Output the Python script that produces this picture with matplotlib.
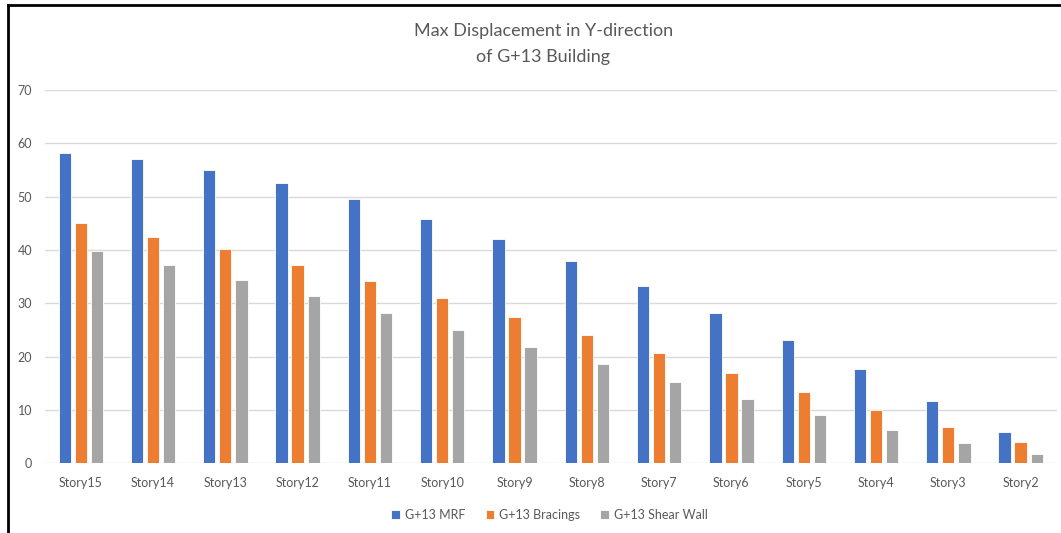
import matplotlib
matplotlib.use('Agg')
import matplotlib.pyplot as plt
from matplotlib.lines import Line2D
import numpy as np

stories = ['Story15', 'Story14', 'Story13', 'Story12', 'Story11', 'Story10', 'Story9',
           'Story8', 'Story7', 'Story6', 'Story5', 'Story4', 'Story3', 'Story2']
mrf = [58.2, 57.0, 55.0, 52.5, 49.5, 45.9, 42.0, 37.9, 33.3, 28.2, 23.1, 17.6, 11.7, 5.9]
bracings = [45.0, 42.5, 40.1, 37.2, 34.2, 30.9, 27.5, 24.1, 20.6, 17.0, 13.3, 9.9, 6.7, 3.9]
shear_wall = [39.9, 37.2, 34.4, 31.3, 28.2, 25.0, 21.8, 18.7, 15.3, 12.1, 9.1, 6.2, 3.7, 1.8]
series_names = ['G+13 MRF', 'G+13 Bracings', 'G+13 Shear Wall']
colors = ['#4472C4', '#ED7D31', '#A5A5A5']

plt.rcParams['font.family'] = ['Lato', 'DejaVu Sans']
text_color = '#595959'

fig = plt.figure(figsize=(10.61, 5.33), dpi=100)
ax = fig.add_axes([0.042, 0.131, 0.954, 0.700])

x = np.arange(len(stories))
w = 0.17
step = 0.222
for i, (vals, name, c) in enumerate(zip([mrf, bracings, shear_wall], series_names, colors)):
    ax.bar(x + (i - 1) * step, vals, width=w, color=c, edgecolor='white', linewidth=0.6,
           label=name, zorder=3)

ax.set_ylim(0, 70)
ax.set_xlim(-0.5, len(stories) - 0.5)
ax.set_yticks(range(0, 71, 10))
ax.set_xticks(x)
ax.set_xticklabels(stories)
ax.grid(axis='y', color='#d9d9d9', linewidth=1, zorder=0)
for s in ['top', 'right', 'left', 'bottom']:
    ax.spines[s].set_visible(False)
ax.tick_params(axis='both', length=0, colors=text_color, labelsize=9)
ax.tick_params(axis='y', pad=9)
ax.tick_params(axis='x', pad=10)

fig.text(0.512, 0.917, 'Max Displacement in Y-direction\nof G+13 Building', ha='center', va='center',
         fontsize=13, color=text_color, linespacing=1.75)

ax.legend(loc='upper center', bbox_to_anchor=(0.499, -0.092), ncol=3, frameon=False,
          fontsize=9, labelcolor=text_color, handlelength=0.7, handleheight=0.7,
          handletextpad=0.4, columnspacing=1.6)

# border lines from the screenshot
fig.add_artist(Line2D([0.008, 0.008], [0.0, 0.991], transform=fig.transFigure, color='black', linewidth=2))
fig.add_artist(Line2D([0.008, 1.0], [0.991, 0.991], transform=fig.transFigure, color='black', linewidth=2))

fig.savefig('out.png', dpi=100)
